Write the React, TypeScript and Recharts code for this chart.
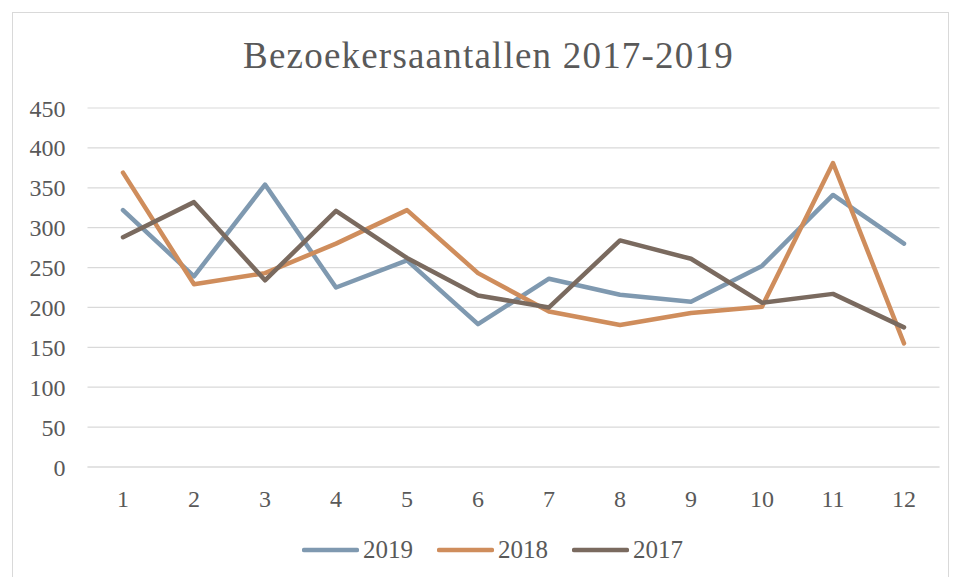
import { LineChart, Line, XAxis, YAxis, CartesianGrid, Legend } from 'recharts';

const months = ['1', '2', '3', '4', '5', '6', '7', '8', '9', '10', '11', '12'];
const visitors2019 = [322, 239, 354, 225, 259, 179, 236, 216, 207, 252, 341, 280];
const visitors2018 = [369, 229, 243, 280, 322, 243, 195, 178, 193, 201, 381, 155];
const visitors2017 = [288, 332, 234, 321, 262, 215, 200, 284, 261, 206, 217, 175];
const yTicks = [0, 50, 100, 150, 200, 250, 300, 350, 400, 450];

const series = [
  { key: 'y2019', name: '2019', color: '#7f99b0' },
  { key: 'y2018', name: '2018', color: '#cf8d5c' },
  { key: 'y2017', name: '2017', color: '#7a6a5f' },
];

const data = months.map((m, i) => ({
  month: m,
  y2019: visitors2019[i],
  y2018: visitors2018[i],
  y2017: visitors2017[i],
}));

const font = '"Liberation Serif", serif';
const textColor = '#595959';
const gridColor = '#d9d9d9';

function LegendContent() {
  return (
    <div style={{ display: 'flex', marginLeft: 302, fontFamily: font, fontSize: 25, color: textColor }}>
      {series.map((s) => (
        <div key={s.key} style={{ display: 'flex', alignItems: 'center', marginRight: 24, height: 24 }}>
          <svg width={57} height={10} style={{ marginRight: 4 }}>
            <line x1={2} y1={5} x2={55} y2={5} stroke={s.color} strokeWidth={4.5} strokeLinecap="round" />
          </svg>
          <span style={{ lineHeight: '24px' }}>{s.name}</span>
        </div>
      ))}
    </div>
  );
}

export default function App() {
  return (
    <div style={{ position: 'relative', width: 955, height: 577, background: '#fff', overflow: 'hidden' }}>
      <style>{'body{margin:0}'}</style>
      <div
        style={{
          position: 'absolute',
          left: 12,
          top: 12,
          width: 937,
          height: 580,
          border: '1px solid ' + gridColor,
          boxSizing: 'border-box',
        }}
      />
      <div
        style={{
          position: 'absolute',
          left: 0,
          top: 35,
          width: 977,
          textAlign: 'center',
          fontFamily: font,
          fontSize: 37,
          letterSpacing: 1.2,
          color: textColor,
          lineHeight: '42px',
        }}
      >
        Bezoekersaantallen 2017-2019
      </div>
      <div style={{ position: 'absolute', left: 0, top: 0 }}>
        <LineChart width={955} height={577} data={data} margin={{ top: 108, right: 15.5, bottom: 70, left: 27.5 }}>
          <CartesianGrid vertical={false} stroke={gridColor} strokeWidth={1.2} />
          <XAxis
            dataKey="month"
            padding={{ left: 35.5, right: 35.5 }}
            axisLine={{ stroke: gridColor, strokeWidth: 1.2 }}
            tickLine={false}
            tickMargin={17}
            height={40}
            tick={{ fill: textColor, fontFamily: font, fontSize: 24 }}
          />
          <YAxis
            domain={[0, 450]}
            ticks={yTicks}
            width={60}
            axisLine={false}
            tickLine={false}
            tickMargin={16}
            tick={{ fill: textColor, fontFamily: font, fontSize: 24 }}
          />
          {series.map((s) => (
            <Line
              key={s.key}
              type="linear"
              dataKey={s.key}
              name={s.name}
              stroke={s.color}
              strokeWidth={4.5}
              strokeLinecap="round"
              strokeLinejoin="round"
              dot={false}
              isAnimationActive={false}
            />
          ))}
          <Legend
            content={<LegendContent />}
            wrapperStyle={{ left: 0, top: 538, width: 955, height: 0, overflow: 'visible' }}
          />
        </LineChart>
      </div>
    </div>
  );
}
